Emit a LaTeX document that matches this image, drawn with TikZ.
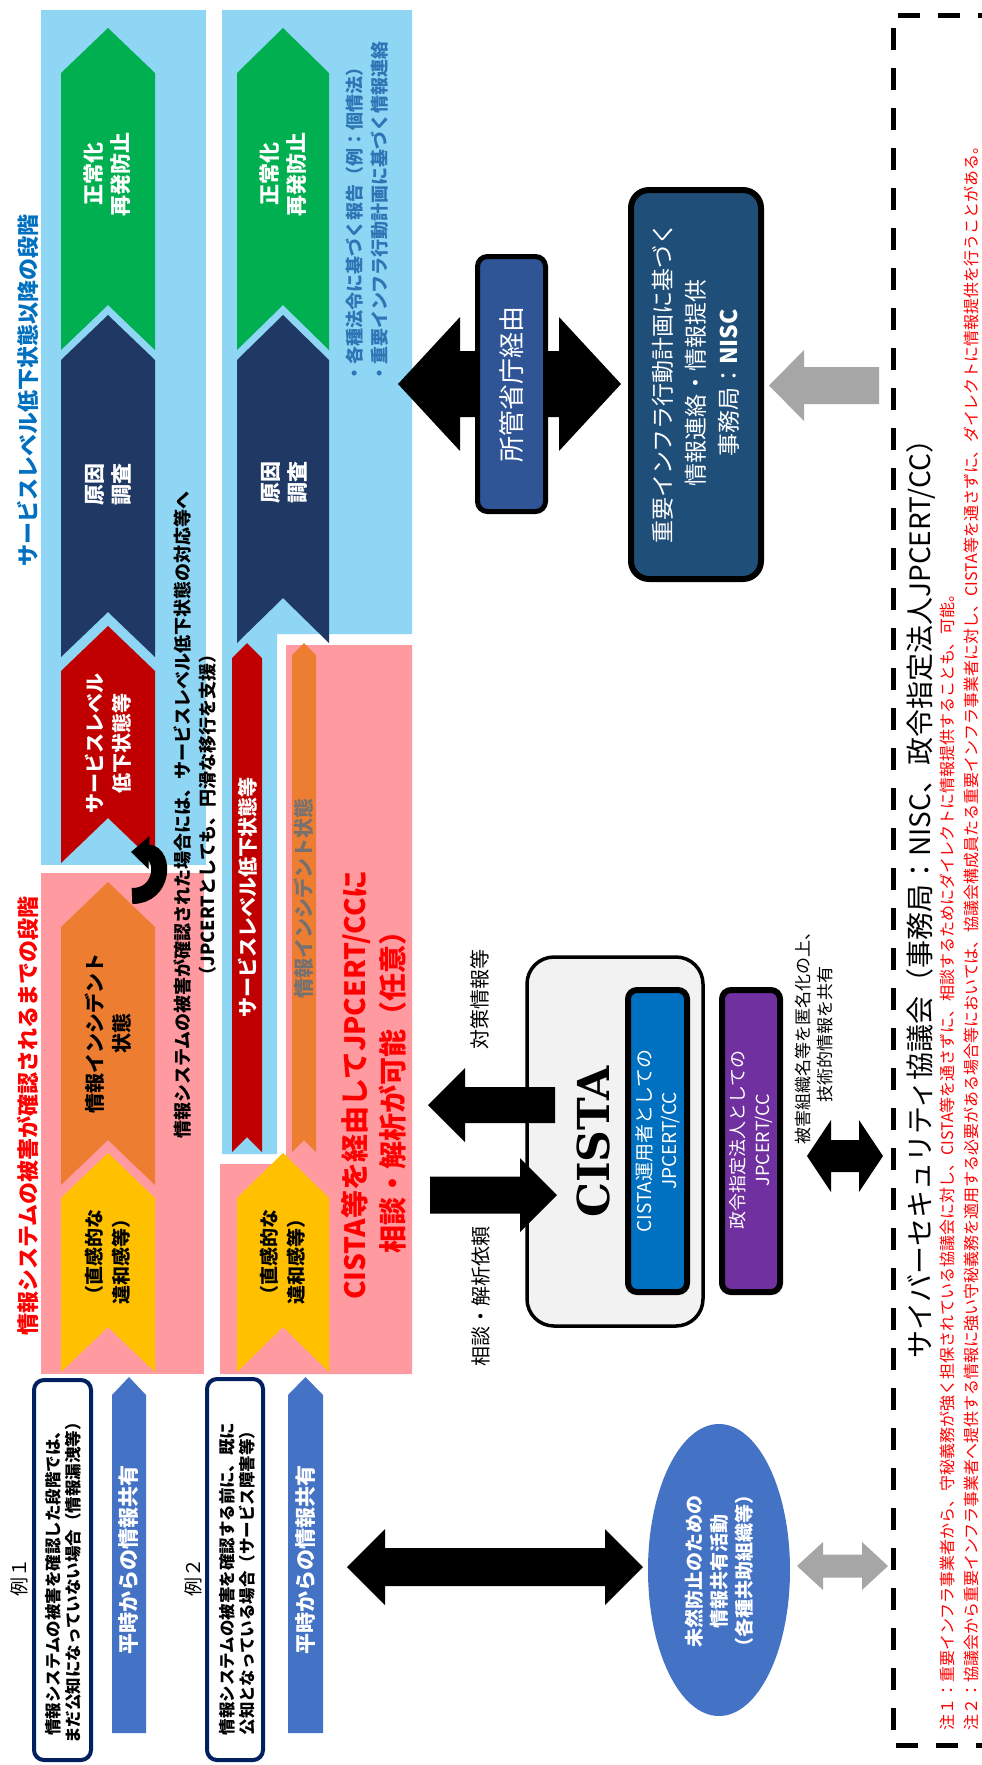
\documentclass[tikz,border=0pt]{standalone}
\usepackage{fontspec}
\setmainfont{Noto Sans CJK JP}
\newfontfamily\cistafont{DejaVu Serif}
\usetikzlibrary{arrows.meta}
\definecolor{bgblue}{RGB}{143,214,245}
\definecolor{bgpink}{RGB}{255,155,160}
\definecolor{cgreen}{RGB}{0,176,80}
\definecolor{cnavy}{RGB}{32,56,100}
\definecolor{cred}{RGB}{192,0,0}
\definecolor{corange}{RGB}{237,125,49}
\definecolor{cyellow}{RGB}{255,192,0}
\definecolor{cblue}{RGB}{68,114,196}
\definecolor{cboxa}{RGB}{47,85,151}
\definecolor{cboxb}{RGB}{31,78,121}
\definecolor{ccista}{RGB}{0,112,192}
\definecolor{cpurple}{RGB}{112,48,160}
\definecolor{cgray}{RGB}{166,166,166}
\definecolor{tblue}{RGB}{0,112,192}
\definecolor{tbullet}{RGB}{46,117,182}
\definecolor{tgray}{RGB}{118,113,113}
\definecolor{exborder}{RGB}{0,32,96}
\definecolor{cistabg}{RGB}{242,242,242}
\newcommand{\myfs}[2]{\fontsize{#1}{#2}\selectfont}
% chevron: x1 x2 ytip ybot depth color
\newcommand{\chev}[6]{%
  \fill[#6] (#1,{#3+#5}) -- ({(#1+#2)/2},#3) -- (#2,{#3+#5}) -- (#2,#4) -- ({(#1+#2)/2},{#4-#5}) -- (#1,#4) -- cycle;}
% horizontal double arrow: x1 x2 yc shafthalf headhalf headlen color
\newcommand{\dblarrowh}[7]{%
  \fill[#7] (#1,#3) -- ({#1+#6},{#3-#5}) -- ({#1+#6},{#3-#4}) -- ({#2-#6},{#3-#4}) -- ({#2-#6},{#3-#5}) -- (#2,#3) -- ({#2-#6},{#3+#5}) -- ({#2-#6},{#3+#4}) -- ({#1+#6},{#3+#4}) -- ({#1+#6},{#3+#5}) -- cycle;}
% single arrow: tip base tail yc shafthalf headhalf color
\newcommand{\sarrow}[7]{%
  \fill[#7] (#1,#4) -- (#2,{#4-#6}) -- (#2,{#4-#5}) -- (#3,{#4-#5}) -- (#3,{#4+#5}) -- (#2,{#4+#5}) -- (#2,{#4+#6}) -- cycle;}
\tikzset{
  txt/.style={rotate=90, inner sep=0pt, align=center},
}
\begin{document}
\begin{tikzpicture}[x=1pt,y=-1pt]
\useasboundingbox (0,0) rectangle (982,1765);
\fill[white] (0,0) rectangle (982,1765);

% background regions
\fill[bgblue] (41,10) rectangle (206,865);
\fill[bgpink] (41,873) rectangle (204,1374);
\fill[bgblue] (222,10) -- (412,10) -- (412,634) -- (277,634) -- (277,1154) -- (222,1154) -- cycle;
\fill[bgpink] (286,645) -- (412,645) -- (412,1374) -- (220,1374) -- (220,1164) -- (286,1164) -- cycle;

% chevrons column 1
\chev{61}{155}{28}{350}{45}{cgreen}
\chev{61}{155}{315}{657}{45}{cnavy}
\chev{61}{155}{626}{863}{45}{cred}
\chev{61}{155}{882}{1185}{45}{corange}
\chev{61}{155}{1153}{1372}{45}{cyellow}
% chevrons column 2
\chev{237}{329}{28}{350}{45}{cgreen}
\chev{237}{329}{315}{643}{45}{cnavy}
\chev{237}{329}{1153}{1372}{45}{cyellow}
\chev{232}{262}{643}{1152}{15}{cred}
\chev{292}{316}{643}{1152}{12}{corange}

% chevron texts
\node[txt, text=white, font=\bfseries\myfs{21}{27}] (ga) at (107,174) {正常化\\再発防止};
\node[txt, text=white, font=\bfseries\myfs{21}{27}] (gb) at (283,174) {正常化\\再発防止};
\node[txt, text=white, font=\bfseries\myfs{21}{27}] (na) at (108,484) {原因\\調査};
\node[txt, text=white, font=\bfseries\myfs{21}{27}] (nb) at (284,482) {原因\\調査};
\node[txt, text=white, font=\bfseries\myfs{20}{27}] (ra) at (108,743) {サービスレベル\\低下状態等};
\node[txt, text=black, font=\bfseries\myfs{20}{27}] (oa) at (108,1033) {情報インシデント\\状態};
\node[txt, text=black, font=\bfseries\myfs{19}{27}] (ya) at (108,1257) {（直感的な\\違和感等）};
\node[txt, text=black, font=\bfseries\myfs{19}{27}] (yb) at (283,1257) {（直感的な\\違和感等）};
\node[txt, text=white, font=\bfseries\myfs{20}{24}] (rb) at (248,897) {サービスレベル低下状態等};
\node[txt, text=tgray, font=\bfseries\myfs{20}{24}] (ob) at (304,898) {情報インシデント状態};

% titles
\node[txt, text=red, font=\bfseries\myfs{22}{26}] (titlea) at (28,1116) {情報システムの被害が確認されるまでの段階};
\node[txt, text=tblue, font=\bfseries\myfs{22}{26}] (titleb) at (28,390) {サービスレベル低下状態以降の段階};

% transition note
\node[txt, font=\bfseries\myfs{18}{25}] (trans) at (195,815) {情報システムの被害が確認された場合には、サービスレベル低下状態の対応等へ\\（JPCERTとしても、円滑な移行を支援）};

% curved transition arrow
\draw[line width=16pt, -{Triangle[length=18pt,width=32pt]}] (132,896) .. controls (165,896) and (165,853) .. (131,852);

% big red text
\node[txt, text=red, font=\bfseries\myfs{28}{38}] (big) at (374,1085) {CISTA等を経由してJPCERT/CCに\\相談・解析が可能（任意）};

% bullets
\node[txt, align=left, anchor=west, text=tbullet, font=\bfseries\myfs{18}{25}] (bul) at (367.5,383) {・各種法令に基づく報告（例：個情法）\\・重要インフラ行動計画に基づく情報連絡};

% ministry double arrow and box
\dblarrowh{398}{621}{384}{33}{67}{62}{black}
\draw[line width=5pt, fill=cboxa, rounded corners=10pt] (477.5,256.5) rectangle (545.5,511.5);
\node[txt, text=white, font=\myfs{26}{30}] (sho) at (512,384) {所管省庁経由};

% NISC box
\draw[line width=6pt, fill=cboxb, rounded corners=18pt] (631,190) rectangle (761,579);
\node[txt, text=white, font=\myfs{23}{33}] (nisc) at (696,383) {重要インフラ行動計画に基づく\\情報連絡・情報提供\\事務局：\textbf{NISC}};
\sarrow{769}{804}{879}{385.5}{18.5}{35.5}{cgray}

% CISTA
\draw[line width=3.5pt, fill=cistabg, rounded corners=27pt] (527,957) rectangle (703,1326);
\node[txt, font=\cistafont\bfseries\myfs{44}{48}] (cista) at (593,1142) {CISTA};
\draw[line width=6pt, fill=ccista, rounded corners=9pt] (628,990) rectangle (687,1292);
\node[txt, text=white, font=\myfs{19}{25}] (cop) at (657.5,1141) {CISTA運用者としての\\JPCERT/CC};
\draw[line width=6pt, fill=cpurple, rounded corners=9pt] (722,990) rectangle (780,1292);
\node[txt, text=white, font=\myfs{18}{25}] (gov) at (751,1140) {政令指定法人としての\\JPCERT/CC};
\sarrow{557}{520}{430}{1195}{18.5}{37}{black}
\sarrow{428}{465}{555}{1105}{18}{37}{black}
\node[txt, font=\myfs{20}{24}] (laba) at (481,1296) {相談・解析依頼};
\node[txt, font=\myfs{20}{24}] (labb) at (480,999) {対策情報等};
\node[txt, font=\myfs{17}{22}] (labc) at (814,1034) {被害組織名等を匿名化の上、\\技術的情報を共有};
\dblarrowh{807}{883}{1156}{16}{36}{24}{black}

% examples
\node[txt, font=\myfs{19}{22}] (exa) at (19,1577) {例１};
\draw[exborder, line width=4pt, fill=white, rounded corners=10pt] (34,1380) rectangle (91,1760);
\node[txt, font=\bfseries\myfs{16.5}{20}] (exat) at (63,1579) {情報システムの被害を確認した段階では、\\まだ公知になっていない場合（情報漏洩等）};
\fill[cblue] (112,1395) -- (129,1377) -- (146,1395) -- (146,1733) -- (112,1733) -- cycle;
\node[txt, text=white, font=\bfseries\myfs{21}{24}] (hja) at (129,1560) {平時からの情報共有};

\node[txt, font=\myfs{19}{22}] (exb) at (193,1577) {例２};
\draw[exborder, line width=4pt, fill=white, rounded corners=10pt] (207,1379) rectangle (263,1760);
\node[txt, font=\bfseries\myfs{16.5}{20}] (exbt) at (237,1579) {情報システムの被害を確認する前に、既に\\公知となっている場合（サービス障害等）};
\fill[cblue] (288,1395) -- (305.5,1377) -- (323,1395) -- (323,1733) -- (288,1733) -- cycle;
\node[txt, text=white, font=\bfseries\myfs{21}{24}] (hjb) at (305.5,1560) {平時からの情報共有};

% sharing activities
\dblarrowh{347}{643}{1567}{19}{38}{38}{black}
\fill[cblue] (719,1570) ellipse [x radius=71pt, y radius=146pt];
\node[txt, text=white, font=\bfseries\myfs{19}{25}] (ell) at (719,1571) {未然防止のための\\情報共有活動\\（各種共助組織等）};
\dblarrowh{797}{888}{1566}{11.5}{24}{26}{cgray}

% council dashed frame
\draw[line width=5pt, dash pattern=on 22pt off 18pt] (1000,15) -- (893,15) -- (893,1745) -- (1000,1745);
\node[txt, font=\myfs{28}{32}] (council) at (921,892) {サイバーセキュリティ協議会（事務局：NISC、政令指定法人JPCERT/CC）};
\node[txt, align=left, anchor=west, text=red, font=\myfs{16}{24}] (notes) at (959,1731) {注１：重要インフラ事業者から、守秘義務が強く担保されている協議会に対し、CISTA等を通さずに、相談するためにダイレクトに情報提供することも、可能。\\注２：協議会から重要インフラ事業者へ提供する情報に強い守秘義務を適用する必要がある場合等においては、協議会構成員たる重要インフラ事業者に対し、CISTA等を通さずに、ダイレクトに情報提供を行うことがある。};
\end{tikzpicture}
\end{document}
